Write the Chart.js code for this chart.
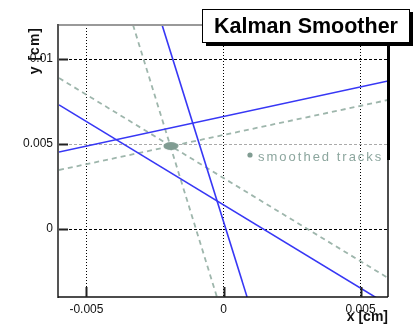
<!DOCTYPE html>
<html>
<head>
<meta charset="utf-8">
<script src="https://cdn.jsdelivr.net/npm/chart.js@4/dist/chart.umd.min.js"></script>
<style>
  html, body { margin: 0; padding: 0; background: #fff; }
  canvas { display: block; }
</style>
</head>
<body>
<canvas id="kalman" width="419" height="324"></canvas>
<script>
// track segments as [x, y] end points in cm
const filteredTracks = [
    [[-0.00224, 0.0120], [0.00086, -0.0040]],
    [[-0.0060, 0.00730], [0.0060, -0.00446]],
    [[-0.0060, 0.00453], [0.0060, 0.00871]]
];
const smoothedTracks = [
    [[-0.00330, 0.0120], [-0.00024, -0.0040]],
    [[-0.0060, 0.00888], [0.0060, -0.00288]],
    [[-0.0060, 0.00347], [0.0060, 0.00759]]
];
const vertex = [-0.00192, 0.00488];

const xTicks = [-0.005, 0, 0.005];
const xTickLabels = ['-0.005', '0', '0.005'];
const yTicks = [0, 0.005, 0.01];
const yTickLabels = ['0', '0.005', '0.01'];

const BLUE = 'rgb(55, 55, 245)';
const SMOOTH = 'rgb(158, 182, 172)';
const SMOOTH_DARK = 'rgb(128, 156, 146)';
const FONT = "'Liberation Sans', Arial, sans-serif";

// filled ellipse used as the vertex marker
function vertexMarker() {
    const c = document.createElement('canvas');
    c.width = 16; c.height = 10;
    const g = c.getContext('2d');
    g.fillStyle = SMOOTH_DARK;
    g.beginPath();
    g.ellipse(8, 5, 7.5, 4, 0, 0, Math.PI * 2);
    g.fill();
    return c;
}

function toPoints(seg) {
    return seg.map(p => ({ x: p[0], y: p[1] }));
}

const datasets = [];
datasets.push({
    data: [{ x: vertex[0], y: vertex[1] }],
    pointStyle: vertexMarker(),
    pointRadius: 8,
    showLine: false
});
filteredTracks.forEach(seg => {
    datasets.push({
        data: toPoints(seg),
        showLine: true,
        borderColor: BLUE,
        borderWidth: 1.6,
        pointRadius: 0
    });
});
smoothedTracks.forEach(seg => {
    datasets.push({
        data: toPoints(seg),
        showLine: true,
        borderColor: SMOOTH,
        borderWidth: 1.8,
        borderDash: [5, 4],
        pointRadius: 0
    });
});

// frame, inward ticks, axis titles, legend and title box
const decorations = {
    id: 'decorations',
    beforeDraw(chart) {
        const ctx = chart.ctx;
        ctx.save();
        ctx.fillStyle = '#fff';
        ctx.fillRect(0, 0, chart.width, chart.height);
        ctx.restore();
    },
    afterDraw(chart) {
        const ctx = chart.ctx;
        const a = chart.chartArea;
        const xs = chart.scales.x, ys = chart.scales.y;
        ctx.save();

        // frame
        ctx.lineWidth = 2;
        ctx.strokeStyle = '#999';
        ctx.beginPath(); ctx.moveTo(a.left, a.top); ctx.lineTo(a.right, a.top); ctx.stroke();
        ctx.strokeStyle = '#555';
        ctx.beginPath(); ctx.moveTo(a.left - 1, a.top - 1); ctx.lineTo(a.left - 1, a.bottom + 1); ctx.stroke();
        ctx.lineWidth = 1.5;
        ctx.strokeStyle = '#111';
        ctx.beginPath(); ctx.moveTo(a.left - 1, a.bottom); ctx.lineTo(a.right, a.bottom); ctx.stroke();
        ctx.beginPath(); ctx.moveTo(a.right, a.top); ctx.lineTo(a.right, a.bottom); ctx.stroke();

        // inward tick marks
        ctx.lineWidth = 2;
        ctx.strokeStyle = '#222';
        xTicks.forEach(v => {
            const px = Math.round(xs.getPixelForValue(v)) + 0.5;
            ctx.beginPath(); ctx.moveTo(px, a.bottom); ctx.lineTo(px, a.bottom - 10); ctx.stroke();
        });
        yTicks.forEach(v => {
            const py = Math.round(ys.getPixelForValue(v)) + 0.5;
            ctx.beginPath(); ctx.moveTo(a.left, py); ctx.lineTo(a.left + 9, py); ctx.stroke();
        });

        // axis titles
        ctx.fillStyle = '#111';
        ctx.font = 'bold 14px ' + FONT;
        ctx.textAlign = 'right';
        ctx.textBaseline = 'middle';
        ctx.fillText('x [cm]', a.right, 317);
        ctx.save();
        ctx.translate(35, a.top + 2);
        ctx.rotate(-Math.PI / 2);
        ctx.letterSpacing = '1px';
        ctx.fillText('y [cm]', 0, 0);
        ctx.restore();

        // legend: marker, label and shadow edge
        ctx.fillStyle = SMOOTH_DARK;
        ctx.beginPath(); ctx.arc(250, 155, 2.6, 0, Math.PI * 2); ctx.fill();
        ctx.fillStyle = 'rgb(140, 166, 158)';
        ctx.font = '13px ' + FONT;
        ctx.textAlign = 'left';
        ctx.letterSpacing = '2px';
        ctx.fillText('smoothed tracks', 258, 157);
        ctx.letterSpacing = '0px';
        ctx.fillStyle = '#000';
        ctx.fillRect(a.right - 1, 43, 3, 117);

        // title box with shadow
        ctx.fillStyle = '#000';
        ctx.fillRect(206, 12, 207, 34);
        ctx.fillStyle = '#fff';
        ctx.fillRect(202, 9, 207, 33);
        ctx.lineWidth = 1;
        ctx.strokeStyle = '#000';
        ctx.strokeRect(202.5, 9.5, 207, 33);
        ctx.fillStyle = '#000';
        ctx.font = 'bold 21.5px ' + FONT;
        ctx.textAlign = 'center';
        ctx.textBaseline = 'middle';
        ctx.fillText('Kalman Smoother', 306, 27);

        ctx.restore();
    }
};

const chart = new Chart(document.getElementById('kalman'), {
    type: 'scatter',
    data: { datasets: datasets },
    options: {
        responsive: false,
        animation: false,
        devicePixelRatio: 1,
        layout: { padding: { top: 25, right: 31, left: 0, bottom: 0 } },
        plugins: { legend: { display: false }, tooltip: { enabled: false } },
        scales: {
            x: {
                type: 'linear',
                min: -0.006,
                max: 0.006,
                afterBuildTicks: scale => { scale.ticks = xTicks.map(v => ({ value: v })); },
                afterFit: scale => { scale.height = 27; },
                ticks: {
                    padding: 5,
                    color: '#111',
                    font: { family: FONT, size: 12 },
                    callback: v => xTickLabels[xTicks.indexOf(v)]
                },
                grid: { color: '#000', lineWidth: 1, drawTicks: false },
                border: { display: false, dash: [1, 2] }
            },
            y: {
                type: 'linear',
                min: -0.004,
                max: 0.012,
                afterBuildTicks: scale => { scale.ticks = yTicks.map(v => ({ value: v })); },
                afterFit: scale => { scale.width = 59; },
                ticks: {
                    padding: 6,
                    color: '#111',
                    font: { family: FONT, size: 12 },
                    callback: v => yTickLabels[yTicks.indexOf(v)]
                },
                grid: {
                    color: ctx => (ctx.tick && ctx.tick.value === 0.005) ? '#aaa' : '#000',
                    lineWidth: 1,
                    drawTicks: false
                },
                border: { display: false, dash: [3, 2] }
            }
        }
    },
    plugins: [decorations]
});
</script>
</body>
</html>
